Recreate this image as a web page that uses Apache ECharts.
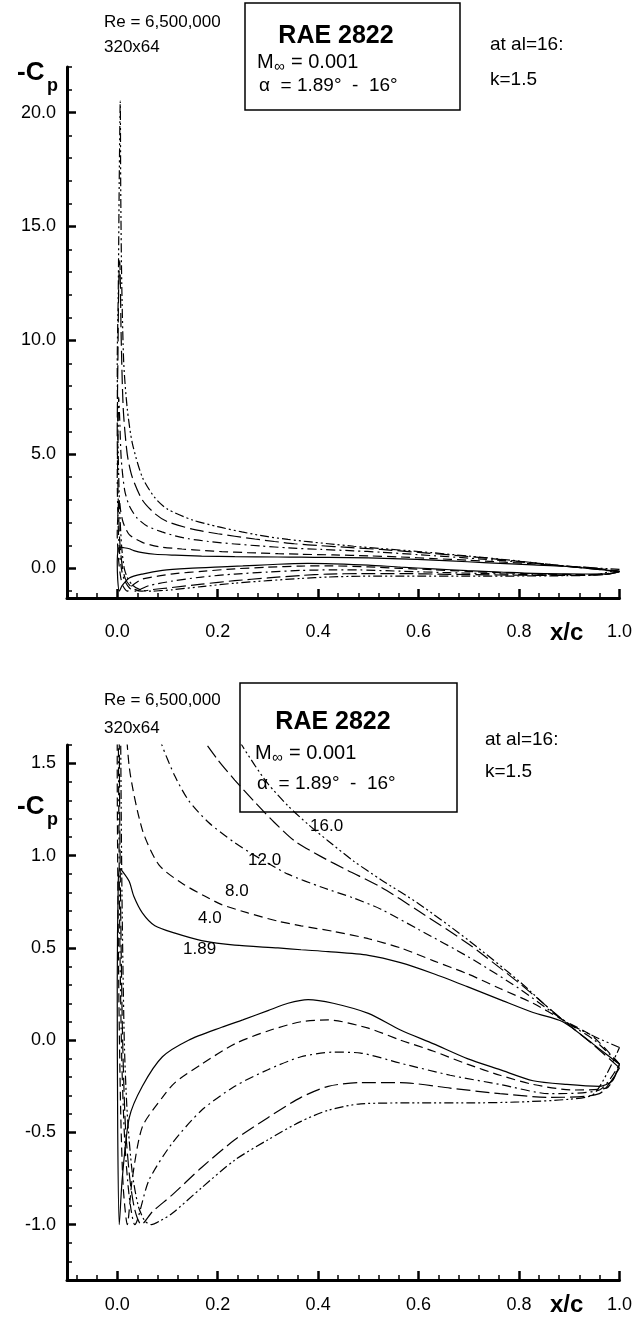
<!DOCTYPE html>
<html><head><meta charset="utf-8">
<script src="https://cdn.jsdelivr.net/npm/echarts@6/dist/echarts.min.js"></script>
<style>html,body{margin:0;padding:0;background:#fff}#c{width:635px;height:1319px}</style>
</head><body><div id="c"></div>
<script>
// ---- data: -Cp versus x/c, RAE 2822, M=0.001, Re=6.5e6 ----
const alphaLabels = ['1.89', '4.0', '8.0', '12.0', '16.0'];

const upper189 = [[1.0,-0.13],[0.99,-0.11],[0.947,-0.02],[0.887,0.1],[0.828,0.15],[0.762,0.22],[0.697,0.29],[0.63,0.36],[0.564,0.42],[0.5,0.46],[0.42,0.48],[0.366,0.49],[0.32,0.5],[0.234,0.515],[0.168,0.54],[0.115,0.58],[0.075,0.62],[0.05,0.69],[0.033,0.78],[0.024,0.86],[0.012,0.91],[0.005,0.93],[0.002,0.85],[0,0.3]];
const lower189 = [[0,0.3],[0.001,-0.5],[0.004,-1.0],[0.01,-0.75],[0.024,-0.42],[0.05,-0.25],[0.09,-0.09],[0.142,0.0],[0.208,0.07],[0.25,0.11],[0.3,0.16],[0.34,0.2],[0.38,0.22],[0.43,0.2],[0.5,0.145],[0.564,0.055],[0.63,-0.02],[0.697,-0.1],[0.762,-0.16],[0.828,-0.22],[0.895,-0.24],[0.96,-0.25],[0.986,-0.22],[1.0,-0.13]];

const upper4 = [[1.0,-0.13],[0.947,0.02],[0.887,0.11],[0.828,0.2],[0.762,0.28],[0.697,0.36],[0.63,0.43],[0.564,0.5],[0.5,0.55],[0.43,0.59],[0.366,0.62],[0.32,0.645],[0.26,0.69],[0.208,0.735],[0.175,0.78],[0.129,0.85],[0.083,0.95],[0.05,1.14],[0.024,1.48],[0.012,2.0],[0.007,2.5],[0.004,3.0],[0.002,2.6],[0,1.5]];
const lower4 = [[0,1.5],[0.003,0.3],[0.007,-0.4],[0.012,-0.8],[0.02,-1.0],[0.03,-0.75],[0.05,-0.47],[0.09,-0.31],[0.115,-0.23],[0.168,-0.13],[0.234,-0.02],[0.3,0.05],[0.366,0.1],[0.42,0.11],[0.5,0.065],[0.564,0.0],[0.63,-0.06],[0.697,-0.13],[0.762,-0.19],[0.828,-0.24],[0.907,-0.27],[0.974,-0.26],[1.0,-0.13]];

const upper8 = [[1.0,-0.13],[0.95,0.0],[0.887,0.11],[0.8,0.28],[0.7,0.45],[0.6,0.6],[0.525,0.71],[0.471,0.77],[0.406,0.83],[0.34,0.9],[0.287,0.98],[0.234,1.07],[0.182,1.18],[0.142,1.3],[0.115,1.43],[0.089,1.6],[0.06,1.85],[0.04,2.2],[0.025,2.7],[0.015,3.4],[0.008,4.8],[0.005,6.5],[0.003,7.5],[0.0015,6.0],[0,4]];
const lower8 = [[0,4],[0.002,1.8],[0.005,0.6],[0.009,-0.1],[0.015,-0.55],[0.024,-0.85],[0.035,-1.0],[0.063,-0.76],[0.109,-0.56],[0.168,-0.38],[0.234,-0.25],[0.3,-0.16],[0.366,-0.09],[0.43,-0.065],[0.485,-0.07],[0.564,-0.125],[0.663,-0.19],[0.762,-0.24],[0.861,-0.29],[0.96,-0.27],[1.0,-0.13]];

const upper12 = [[1.0,-0.15],[0.95,-0.03],[0.887,0.11],[0.8,0.31],[0.7,0.52],[0.6,0.7],[0.525,0.83],[0.459,0.92],[0.406,0.995],[0.353,1.08],[0.313,1.18],[0.274,1.29],[0.234,1.41],[0.2,1.52],[0.15,1.72],[0.1,2.05],[0.075,2.4],[0.05,3.0],[0.03,4.0],[0.02,5.0],[0.012,7.0],[0.008,10.0],[0.005,13.5],[0.003,12.5],[0.0015,9.5],[0,6]];
const lower12 = [[0,6],[0.002,3],[0.005,1.2],[0.01,0.1],[0.016,-0.45],[0.025,-0.75],[0.035,-0.92],[0.048,-1.0],[0.07,-0.93],[0.109,-0.84],[0.168,-0.69],[0.234,-0.54],[0.3,-0.42],[0.366,-0.31],[0.42,-0.25],[0.485,-0.23],[0.564,-0.23],[0.663,-0.26],[0.762,-0.29],[0.861,-0.31],[0.96,-0.29],[1.0,-0.15]];

const upper16 = [[1.0,-0.04],[0.95,0.02],[0.887,0.11],[0.8,0.32],[0.7,0.54],[0.6,0.74],[0.525,0.87],[0.471,0.97],[0.42,1.08],[0.38,1.17],[0.34,1.27],[0.3,1.39],[0.274,1.49],[0.248,1.6],[0.2,1.83],[0.15,2.12],[0.1,2.6],[0.075,3.1],[0.05,4.0],[0.03,5.5],[0.02,7.0],[0.013,9.0],[0.009,12.5],[0.007,16.5],[0.006,20.5],[0.004,17],[0.002,12],[0,9]];
const lower16 = [[0,9],[0.002,5],[0.005,2.5],[0.009,0.9],[0.014,0.0],[0.02,-0.4],[0.03,-0.72],[0.042,-0.9],[0.055,-0.98],[0.068,-1.0],[0.085,-0.98],[0.109,-0.94],[0.168,-0.8],[0.234,-0.65],[0.3,-0.54],[0.366,-0.44],[0.42,-0.38],[0.485,-0.345],[0.6,-0.34],[0.7,-0.34],[0.8,-0.335],[0.9,-0.32],[0.95,-0.29],[1.0,-0.04]];

// ---- tick values ----
const xMajorTicks = [0.0, 0.2, 0.4, 0.6, 0.8, 1.0];
const xMinorTicks = [-0.08,-0.04,0.04,0.08,0.12,0.16,0.24,0.28,0.32,0.36,0.44,0.48,0.52,0.56,0.64,0.68,0.72,0.76,0.84,0.88,0.92,0.96];
const yTopMajorTicks = [0, 5, 10, 15, 20];
const yTopMinorTicks = [-1,1,2,3,4,6,7,8,9,11,12,13,14,16,17,18,19,21,22];
const yBotMajorTicks = [-1.0, -0.5, 0.0, 0.5, 1.0, 1.5];
const yBotMinorTicks = [-1.2,-1.1,-0.9,-0.8,-0.7,-0.6,-0.4,-0.3,-0.2,-0.1,0.1,0.2,0.3,0.4,0.6,0.7,0.8,0.9,1.1,1.2,1.3,1.4,1.6];

// ---- build ----
const curves = [[upper189, lower189],[upper4, lower4],[upper8, lower8],[upper12, lower12],[upper16, lower16]];
const dashes = ['solid', [9,5], [9,4,2,4], [14,5], [9,3,2,3,2,3]];
const FONT = '"Liberation Sans", Arial, Helvetica, sans-serif';

function loop(c){ return c[0].concat(c[1].slice(1)); }

function xAxes(grid, margin){
  return [
    {type:'value', gridIndex:grid, min:-0.1, max:1.0, position:'bottom',
     axisLine:{show:true, onZero:false, lineStyle:{color:'#000', width:3}},
     axisTick:{show:true, inside:true, length:9, customValues:xMajorTicks, lineStyle:{color:'#000', width:2.5}},
     axisLabel:{show:true, customValues:xMajorTicks, formatter:v=>v.toFixed(1), margin:margin, fontSize:18, color:'#000', fontFamily:FONT},
     splitLine:{show:false}},
    {type:'value', gridIndex:grid, min:-0.1, max:1.0, position:'bottom',
     axisLine:{show:false, onZero:false},
     axisTick:{show:true, inside:true, length:5, customValues:xMinorTicks, lineStyle:{color:'#000', width:1.5}},
     axisLabel:{show:false}, splitLine:{show:false}}
  ];
}
function yAxes(grid, min, max, major, minor){
  return [
    {type:'value', gridIndex:grid, min:min, max:max, position:'left',
     axisLine:{show:true, onZero:false, lineStyle:{color:'#000', width:3}},
     axisTick:{show:true, inside:true, length:9, customValues:major, lineStyle:{color:'#000', width:2.5}},
     axisLabel:{show:true, customValues:major, formatter:v=>v.toFixed(1), margin:11, fontSize:18, color:'#000', fontFamily:FONT},
     splitLine:{show:false}},
    {type:'value', gridIndex:grid, min:min, max:max, position:'left',
     axisLine:{show:false, onZero:false},
     axisTick:{show:true, inside:true, length:5, customValues:minor, lineStyle:{color:'#000', width:1.5}},
     axisLabel:{show:false}, splitLine:{show:false}}
  ];
}

const series = [];
[0, 2].forEach(ax => {
  curves.forEach((c, i) => {
    series.push({type:'line', xAxisIndex:ax, yAxisIndex:ax, data:loop(c), showSymbol:false, symbol:'none',
      smooth:0.25, clip:true, silent:true, animation:false,
      lineStyle:{color:'#000', width:1.2, type:dashes[i]}});
  });
});

function txt(x, y, text, font, align){
  return {type:'text', x:x, y:y, z:100, silent:true,
    style:{text:text, font:font, fill:'#000', textAlign:align||'left', textVerticalAlign:'middle'}};
}
const small = '17px ' + FONT, mid = '19px ' + FONT, boldBig = 'bold 25px ' + FONT;

const labelPos = [[183,949],[198,918],[225,891],[248,860],[310,826]];

const graphic = [
  // top block
  txt(104, 22, 'Re = 6,500,000', small), txt(104, 47, '320x64', small),
  {type:'rect', shape:{x:245, y:3, width:215, height:107}, style:{fill:'none', stroke:'#000', lineWidth:1.5}, z:100, silent:true},
  txt(336, 36, 'RAE 2822', boldBig, 'center'),
  txt(257, 62, 'M', '20px ' + FONT), txt(274, 67, '\u221e', '15px ' + FONT), txt(291, 62, '= 0.001', '20px ' + FONT),
  txt(259, 86, '\u03b1  = 1.89\u00b0  -  16\u00b0', mid),
  txt(490, 45, 'at al=16:', mid), txt(490, 80, 'k=1.5', mid),
  txt(17, 73, '-C', 'bold 26px ' + FONT), txt(47, 86, 'p', 'bold 18px ' + FONT),
  txt(550, 633, 'x/c', 'bold 24px ' + FONT),
  // bottom block
  txt(104, 700, 'Re = 6,500,000', small), txt(104, 728, '320x64', small),
  {type:'rect', shape:{x:240, y:683, width:217, height:129}, style:{fill:'none', stroke:'#000', lineWidth:1.5}, z:100, silent:true},
  txt(333, 722, 'RAE 2822', boldBig, 'center'),
  txt(255, 753, 'M', '20px ' + FONT), txt(272, 758, '\u221e', '15px ' + FONT), txt(289, 753, '= 0.001', '20px ' + FONT),
  txt(257, 784, '\u03b1  = 1.89\u00b0  -  16\u00b0', mid),
  txt(485, 740, 'at al=16:', mid), txt(485, 772, 'k=1.5', mid),
  txt(17, 807, '-C', 'bold 26px ' + FONT), txt(47, 820, 'p', 'bold 18px ' + FONT),
  txt(550, 1305, 'x/c', 'bold 24px ' + FONT)
];
alphaLabels.forEach((t, i) => graphic.push(txt(labelPos[i][0], labelPos[i][1], t, small)));

const chart = echarts.init(document.getElementById('c'), null, {renderer:'canvas'});
chart.setOption({
  animation:false,
  backgroundColor:'#fff',
  grid:[
    {left:67, right:15, top:67, height:531},
    {left:67, right:15, top:745, height:535}
  ],
  xAxis: xAxes(0, 25).concat(xAxes(1, 16)),
  yAxis: yAxes(0, -1.3, 22, yTopMajorTicks, yTopMinorTicks).concat(yAxes(1, -1.3, 1.6, yBotMajorTicks, yBotMinorTicks)),
  series: series,
  graphic: graphic
});
</script></body></html>
